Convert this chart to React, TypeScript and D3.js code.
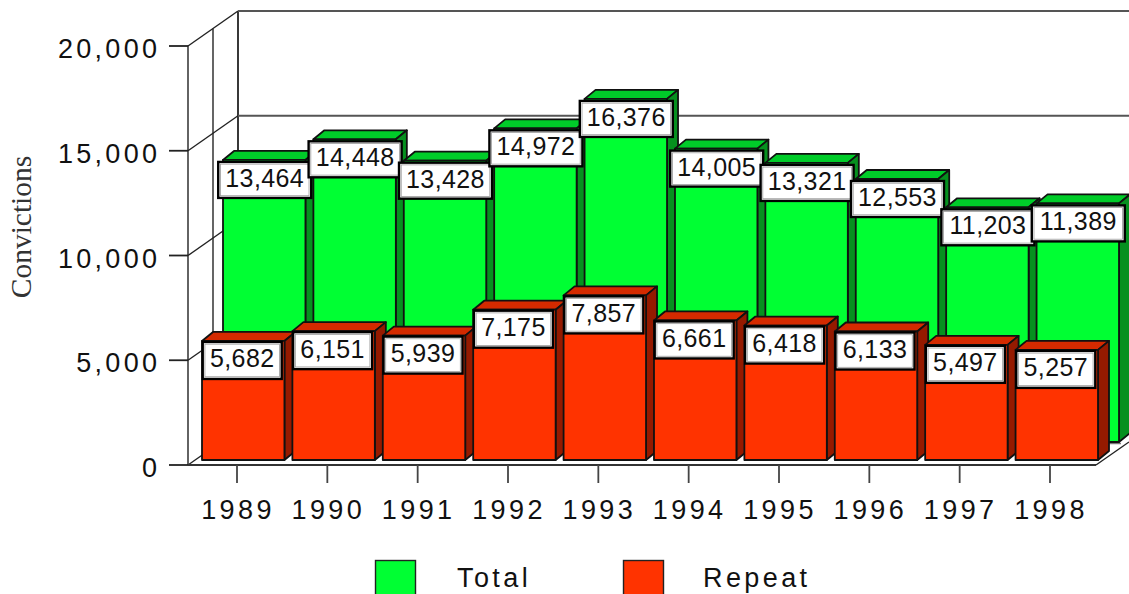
import React from "react";
import * as d3 from "d3";

const years = ["1989","1990","1991","1992","1993","1994","1995","1996","1997","1998"];
const total = [13464,14448,13428,14972,16376,14005,13321,12553,11203,11389];
const repeat = [5682,6151,5939,7175,7857,6661,6418,6133,5497,5257];
const yTicks = [0,5000,10000,15000,20000];
const W = 1129, H = 594;
const fmt = d3.format(",");
const font = "'Liberation Sans', Arial, sans-serif";

const yFront = d3.scaleLinear().domain([0,20000]).range([465,46]);
const pxPer = (v:number)=> yFront(0)-yFront(v);
const xTick = d3.scalePoint<string>().domain(years).range([237,1050]);
const xGreen = d3.scaleBand<string>().domain(years).range([223,1119]).paddingInner(0.088);
const xRed = d3.scaleBand<string>().domain(years).range([202,1098]).paddingInner(0.088);
const wall = {dx:50, dy:-35};

function Bars({x,vals,base,front,top,side,dx,dy,labelW,labelH,labelOff,labelTop,textOff}:{x:d3.ScaleBand<string>,vals:number[],base:number,front:string,top:string,side:string,dx:number,dy:number,labelW:number,labelH:number,labelOff:number,labelTop:number,textOff:number}){
  const w = x.bandwidth();
  return <g>
    {years.map((yr,i)=>{
      const l=x(yr)!, r=l+w, t=base-pxPer(vals[i]);
      return <g key={yr} stroke="#111" strokeWidth={1.8} strokeLinejoin="round">
        <path d={`M${l},${t}L${l+dx},${t+dy}L${r+dx},${t+dy}L${r},${t}Z`} fill={top}/>
        <path d={`M${r},${t}L${r+dx},${t+dy}L${r+dx},${base+dy}L${r},${base}Z`} fill={side}/>
        <rect x={l} y={t} width={w} height={base-t} fill={front}/>
      </g>;
    })}
    {years.map((yr,i)=>{
      const l=x(yr)!, t=base-pxPer(vals[i]);
      const cx=l+w/2+labelOff;
      const bx=cx-labelW/2, by=t+labelTop;
      return <g key={yr}>
        <rect x={bx} y={by} width={labelW} height={labelH} fill="#fff" stroke="#000" strokeWidth={2.4}/>
        <rect x={bx+2.2} y={by+2.2} width={labelW-4.4} height={labelH-4.4} fill="#fff" stroke="#999" strokeWidth={0.8}/>
        <text x={cx} y={t+textOff} textAnchor="middle" fontFamily={font} fontSize={25} fill="#111" letterSpacing={0.4}>{fmt(vals[i])}</text>
      </g>;
    })}
  </g>;
}

export default function App(){
  return <svg width={W} height={H} viewBox={`0 0 ${W} ${H}`} style={{position:"absolute",left:0,top:0,background:"#fff"}}>
    <g stroke="#222" strokeWidth={1.4} fill="none">
      <line x1={188} y1={yFront(20000)} x2={188} y2={yFront(0)}/>
      <line x1={213} y1={yFront(20000)+wall.dy/2} x2={213} y2={yFront(0)+wall.dy/2} stroke="#555" strokeWidth={1.8}/>
      <line x1={238} y1={yFront(20000)+wall.dy} x2={238} y2={yFront(0)+wall.dy} strokeWidth={1.8}/>
      {yTicks.map(t=><g key={t}>
        <line x1={169} x2={188} y1={yFront(t)} y2={yFront(t)} strokeWidth={1.8}/>
        <line x1={188} x2={188+wall.dx} y1={yFront(t)} y2={yFront(t)+wall.dy}/>
        <line x1={238} x2={W} y1={yFront(t)+wall.dy} y2={yFront(t)+wall.dy} stroke={t===20000||t===15000?"#555":"none"} strokeWidth={1.8}/>
      </g>)}
      <line x1={188} x2={1096} y1={yFront(0)} y2={yFront(0)} stroke="#333" strokeWidth={1.8}/>
      <line x1={1096} x2={1129} y1={yFront(0)} y2={yFront(0)-23}/>
      <line x1={1096} x2={1121} y1={443.5} y2={443.5} stroke="#777" strokeWidth={1.5}/>
      {years.map(y=><line key={y} x1={xTick(y)} x2={xTick(y)} y1={465} y2={483} stroke="#444" strokeWidth={1.8}/>)}
    </g>
    <Bars x={xGreen} vals={total} base={442} front="#00ff33" top="#00cc29" side="#06901f" dx={11} dy={-9} labelW={93} labelH={36} labelOff={0.5} labelTop={2} textOff={27}/>
    <Bars x={xRed} vals={repeat} base={460} front="#ff3300" top="#d42a00" side="#951a00" dx={11} dy={-9} labelW={79} labelH={37} labelOff={-1} labelTop={1} textOff={26.5}/>
    <g fontFamily={font} fontSize={27} fill="#111">
      {yTicks.map(t=><text key={t} x={160.3} y={yFront(t)+12} textAnchor="end" letterSpacing={3.3}>{fmt(t)}</text>)}
      {years.map(y=><text key={y} x={xTick(y)!+1} y={519} textAnchor="middle" letterSpacing={3.4}>{y}</text>)}
    </g>
    <text transform="translate(31,227) rotate(-90)" textAnchor="middle" fontFamily="'Liberation Serif', serif" fontSize={29.5} fill="#333">Convictions</text>
    <g stroke="#222" strokeWidth={1.4}>
      <rect x={375.5} y={560.5} width={40} height={40} fill="#00ff33"/>
      <rect x={623.5} y={560.5} width={40} height={40} fill="#ff3300"/>
    </g>
    <g fontFamily={font} fontSize={27} fill="#111" letterSpacing={3.4}>
      <text x={457} y={587}>Total</text>
      <text x={703} y={587}>Repeat</text>
    </g>
  </svg>;
}
